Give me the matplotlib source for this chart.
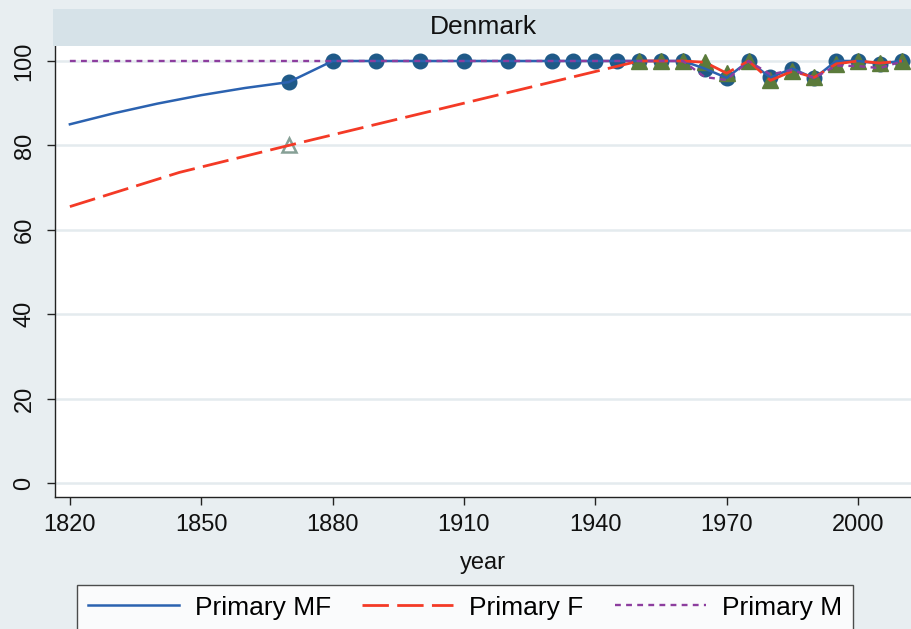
import matplotlib
matplotlib.use("Agg")
import matplotlib.pyplot as plt
from matplotlib.patches import Rectangle
from matplotlib.lines import Line2D

plt.rcParams['font.family'] = ['Liberation Sans', 'DejaVu Sans']
plt.rcParams['lines.scale_dashes'] = False

# data
country = "Denmark"

# Primary MF: early part is only a line, markers from 1870 on
mf_line_years = [1820, 1830, 1840, 1850, 1860]
mf_line_vals = [85.0, 87.6, 89.9, 91.9, 93.6]
mf_years = [1870, 1880, 1890, 1900, 1910, 1920, 1930, 1935, 1940, 1945,
            1950, 1955, 1960, 1965, 1970, 1975, 1980, 1985, 1990, 1995,
            2000, 2005, 2010]
mf_vals = [95.0, 100, 100, 100, 100, 100, 100, 100, 100, 100,
           100, 100, 100, 98.2, 96.0, 100, 96.1, 98.2, 95.9, 100,
           100, 99.4, 100]

# Primary F
f_line_years = [1820, 1845]
f_line_vals = [65.5, 73.6]
f_hollow_years = [1870]
f_hollow_vals = [80.0]
f_years = [1950, 1955, 1960, 1965, 1970, 1975, 1980, 1985, 1990, 1995,
           2000, 2005, 2010]
f_vals = [100, 100, 100, 99.7, 97.1, 100, 95.4, 97.6, 96.1, 99.3,
          100, 99.5, 100]

# Primary M
m_years = [1820, 1950, 1955, 1960, 1965, 1970, 1975, 1980, 1985, 1990,
           1995, 2000, 2005, 2010]
m_vals = [100, 100, 100, 100, 96.2, 95.5, 100, 96.8, 97.9, 96.0,
          98.9, 98.8, 98.3, 99.9]

xticks = [1820, 1850, 1880, 1910, 1940, 1970, 2000]
yticks = [0, 20, 40, 60, 80, 100]

bg = '#e8eef1'
strip = '#d6e2e8'
c_mf = '#2b62b0'
c_f = '#f43a26'
c_m = '#8c3d9e'
c_circ = '#1f5a88'
c_tri = '#5b7b3b'
c_hollow = '#86a096'

fig = plt.figure(figsize=(9.11, 6.29), dpi=100, facecolor=bg)
ax = fig.add_axes([55/911, 132/629, 856/911, 451/629])
ax.set_facecolor('white')

# title strip
fig.patches.append(Rectangle((53/911, 583/629), 858/911, 37/629,
                             transform=fig.transFigure, facecolor=strip,
                             edgecolor='none', zorder=0))
fig.text((55 + 911) / 2 / 911, 602/629, country, ha='center', va='center',
         fontsize=19, color='#111111')

for yt in yticks:
    ax.axhline(yt, color='#e4ebee', lw=1.8, zorder=1)

ax.plot(mf_years, mf_vals, 'o', ms=10.5, color=c_circ, zorder=2)
ax.plot(f_years, f_vals, '^', ms=11, color=c_tri, zorder=3)
ax.plot(f_hollow_years, f_hollow_vals, '^', ms=9.5, mfc='none', mec=c_hollow,
        mew=1.8, zorder=3)

ax.plot(mf_line_years + mf_years, mf_line_vals + mf_vals, color=c_mf,
        lw=1.8, zorder=4)
ax.plot(f_line_years + f_hollow_years + f_years,
        f_line_vals + f_hollow_vals + f_vals, color=c_f, lw=2.0,
        dashes=(19, 6), zorder=5)
ax.plot(m_years, m_vals, color=c_m, lw=1.7, dashes=(4.2, 3.8), zorder=6)

ax.set_xlim(1816.6, 2012.1)
ax.set_ylim(-3.3, 103.55)
ax.set_xticks(xticks)
ax.set_yticks(yticks)
ax.set_yticklabels([str(v) for v in yticks], rotation=90, va='center')
ax.tick_params(axis='both', labelsize=17, length=6, width=1,
               color='#222222', labelcolor='#111111')
ax.tick_params(axis='x', pad=6)
ax.tick_params(axis='y', pad=8)
for s in ['top', 'right']:
    ax.spines[s].set_visible(False)
for s in ['left', 'bottom']:
    ax.spines[s].set_color('#222222')
    ax.spines[s].set_linewidth(1)
ax.set_xlabel('year', fontsize=17, color='#111111', labelpad=12)

handles = [Line2D([], [], color=c_mf, lw=1.8),
           Line2D([], [], color=c_f, lw=2.0, dashes=(19, 6)),
           Line2D([], [], color=c_m, lw=1.7, dashes=(4.2, 3.8))]
leg = fig.legend(handles, ['Primary MF', 'Primary F', 'Primary M'],
                 loc='upper center', bbox_to_anchor=(465/911, 1 - 585/629),
                 ncol=3, fontsize=19, frameon=True, fancybox=False,
                 handlelength=3.45, handletextpad=0.6, columnspacing=1.2,
                 borderpad=0.4, borderaxespad=0)
leg.get_frame().set_edgecolor('#222222')
leg.get_frame().set_linewidth(1)
leg.get_frame().set_facecolor('white')

fig.savefig('out.png', dpi=100, facecolor=bg)
